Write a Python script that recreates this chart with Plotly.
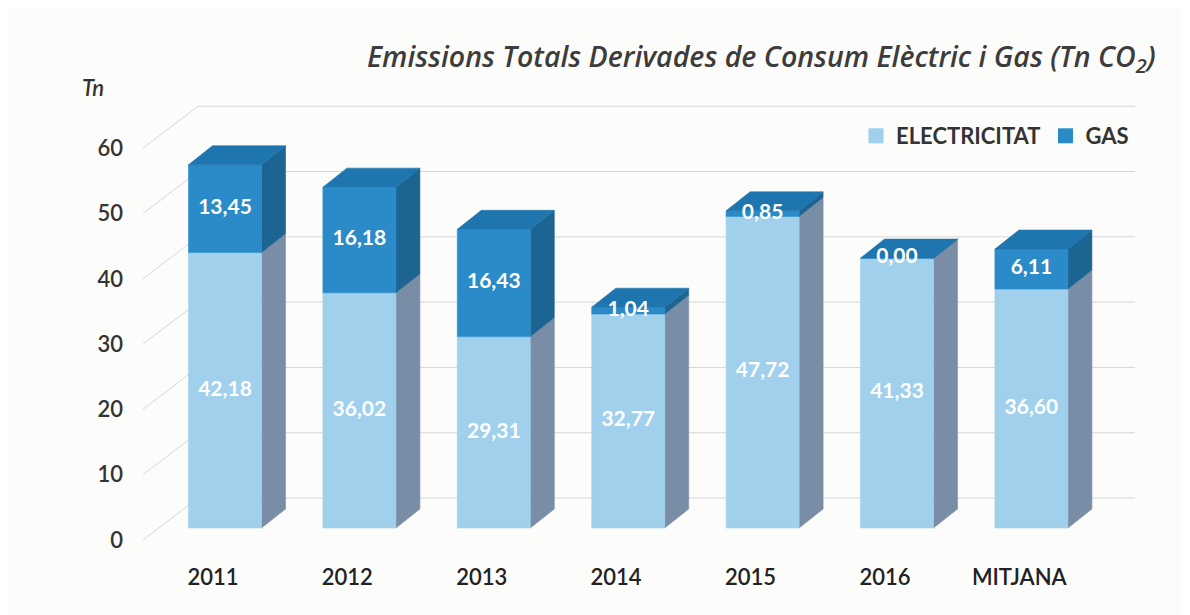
import plotly.graph_objects as go

# ---------------- data ----------------
categories = ["2011", "2012", "2013", "2014", "2015", "2016", "MITJANA"]
electricitat = [42.18, 36.02, 29.31, 32.77, 47.72, 41.33, 36.60]
gas = [13.45, 16.18, 16.43, 1.04, 0.85, 0.00, 6.11]
y_ticks = [0, 10, 20, 30, 40, 50, 60]

# ---------------- layout / geometry (styles) ----------------
W, H = 1190, 615
OFF = 8                              # page body margin in the browser
# plot area, in page pixels
PL, PR, PT, PB = 128, 1160, 60, 560
ML, MR, MT, MB = PL - OFF, W - (PR - OFF), PT - OFF, H - (PB - OFF)
X0_PX, PX_PER_X = 225.0, 134.4     # page pixel of first category centre, px per category
Y0_PX, PX_PER_Y = 528.0, 6.53      # page pixel of value 0 on bar fronts, px per unit
BW = 0.543                         # bar width (category units)
DX, DY = 0.1786, 2.91              # 3D depth offset (data units)
WALL_DY = 4.59                     # back-wall gridline offset
WALL_X0, WALL_X1 = -0.201, 6.771   # back-wall horizontal extent
LEFT_X = -0.61                     # left-wall front edge
LABEL_DY = -1.84                   # y-tick label offset

C_ELEC_FRONT = "#A0D0EC"
C_ELEC_SIDE = "#7A8DA6"
C_GAS_FRONT = "#2A8BC8"
C_GAS_SIDE = "#1C6592"
C_GAS_TOP = "#1F76AE"
C_GRID = "#D6D6D6"
C_TEXT = "#333333"
FONT = "Lato"

x_range = [(PL - X0_PX) / PX_PER_X, (PR - X0_PX) / PX_PER_X]
y_range = [(Y0_PX - PB) / PX_PER_Y, (Y0_PX - PT) / PX_PER_Y]


def px_to_paper(px, py):
    return ((px - PL) / (PR - PL), (PB - py) / (PB - PT))


fig = go.Figure()

# back wall gridlines + left wall slanted lines
gx, gy = [], []
for v in y_ticks:
    gx += [LEFT_X, WALL_X0, WALL_X1, None]
    gy += [v + LABEL_DY, v + WALL_DY, v + WALL_DY, None]
fig.add_trace(go.Scatter(x=gx, y=gy, mode="lines", line=dict(color=C_GRID, width=1),
                         hoverinfo="skip", showlegend=False))


def poly_trace(polys, color):
    xs, ys = [], []
    for px_, py_ in polys:
        xs += px_ + [px_[0], None]
        ys += py_ + [py_[0], None]
    return go.Scatter(x=xs, y=ys, mode="lines", fill="toself", fillcolor=color,
                      line=dict(color=color, width=0.6), hoverinfo="skip", showlegend=False)


elec_front, elec_side, gas_front, gas_side, gas_top = [], [], [], [], []
for i, (e, g) in enumerate(zip(electricitat, gas)):
    xl, xr = i - BW / 2, i + BW / 2
    for (y0, y1, front, side) in [(0, e, elec_front, elec_side), (e, e + g, gas_front, gas_side)]:
        front.append(([xl, xr, xr, xl], [y0, y0, y1, y1]))
        side.append(([xr, xr + DX, xr + DX, xr], [y0, y0 + DY, y1 + DY, y1]))
    t = e + g
    gas_top.append(([xl, xl + DX, xr + DX, xr], [t, t + DY, t + DY, t]))

fig.add_trace(poly_trace(elec_side, C_ELEC_SIDE))
fig.add_trace(poly_trace(elec_front, C_ELEC_FRONT))
fig.add_trace(poly_trace(gas_side, C_GAS_SIDE))
fig.add_trace(poly_trace(gas_front, C_GAS_FRONT))
fig.add_trace(poly_trace(gas_top, C_GAS_TOP))


def fmt(v):
    return f"{v:.2f}".replace(".", ",")


idx = list(range(len(categories)))
fig.add_trace(go.Scatter(
    x=idx + idx,
    y=[e / 2 for e in electricitat] + [e + g / 2 for e, g in zip(electricitat, gas)],
    text=[fmt(v) for v in electricitat] + [fmt(v) for v in gas],
    mode="text", textposition="middle center",
    textfont=dict(family=FONT, size=21, color="white", weight="bold"),
    hoverinfo="skip", showlegend=False))

# legend entries
fig.add_trace(go.Scatter(x=[None], y=[None], mode="markers", name="ELECTRICITAT",
                         marker=dict(symbol="square", size=15, color=C_ELEC_FRONT)))
fig.add_trace(go.Scatter(x=[None], y=[None], mode="markers", name="GAS",
                         marker=dict(symbol="square", size=15, color=C_GAS_FRONT)))

lx, ly = px_to_paper(856, 136)
tx, ty = px_to_paper(1158, 58)
nx, ny = px_to_paper(93, 87)

fig.update_layout(
    width=W, height=H,
    margin=dict(l=ML, r=MR, t=MT, b=MB),
    paper_bgcolor="#FCFCFA", plot_bgcolor="rgba(0,0,0,0)",
    font=dict(family=FONT, color=C_TEXT),
    xaxis=dict(range=x_range, showgrid=False, zeroline=False, showline=False,
               tickvals=[i - 0.09 for i in idx], ticktext=categories,
               tickfont=dict(size=22, color="#222222", family=FONT, weight=600),
               ticks="", ticklabelstandoff=2, fixedrange=True),
    yaxis=dict(range=y_range, showgrid=False, zeroline=False, showline=False,
               tickvals=[v + LABEL_DY for v in y_ticks], ticktext=[str(v) for v in y_ticks],
               tickfont=dict(size=22, color=C_TEXT, family=FONT, weight=600),
               ticks="", ticklabelstandoff=4, fixedrange=True),
    legend=dict(orientation="h", x=lx, y=ly, xanchor="left", yanchor="middle",
                bgcolor="rgba(0,0,0,0)", font=dict(size=22, color=C_TEXT, family=FONT, weight="bold"),
                itemwidth=30, tracegroupgap=0),
    showlegend=True,
    annotations=[
        dict(text="Emissions Totals Derivades de Consum Elèctric i Gas (Tn CO<sub>2</sub>)",
             xref="paper", yref="paper", x=tx, y=ty, xanchor="right", yanchor="middle",
             showarrow=False,
             font=dict(family="Open Sans", size=28.5, color="#3C3C3C", style="italic", weight=600)),
        dict(text="<i>Tn</i>", xref="paper", yref="paper", x=nx, y=ny,
             xanchor="center", yanchor="middle", showarrow=False,
             font=dict(family=FONT, size=22, color=C_TEXT, weight=600)),
    ],
)

fig.write_html("out.html")
